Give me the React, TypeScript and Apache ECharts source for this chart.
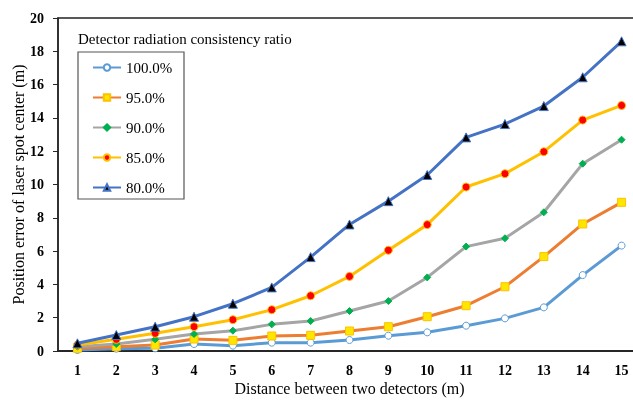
import React, { useEffect, useRef } from "react";
import * as echarts from "echarts";

const categories = ["1", "2", "3", "4", "5", "6", "7", "8", "9", "10", "11", "12", "13", "14", "15"];
const seriesNames = ["100.0%", "95.0%", "90.0%", "85.0%", "80.0%"];
const r100 = [0.06, 0.14, 0.16, 0.42, 0.32, 0.5, 0.5, 0.66, 0.92, 1.12, 1.52, 1.96, 2.62, 4.56, 6.33];
const r95 = [0.16, 0.26, 0.36, 0.72, 0.64, 0.9, 0.94, 1.2, 1.46, 2.06, 2.72, 3.86, 5.67, 7.63, 8.93];
const r90 = [0.26, 0.42, 0.7, 1.02, 1.22, 1.6, 1.8, 2.4, 3.0, 4.42, 6.27, 6.77, 8.33, 11.25, 12.69];
const r85 = [0.36, 0.7, 1.06, 1.46, 1.88, 2.48, 3.32, 4.48, 6.05, 7.59, 9.85, 10.65, 11.97, 13.87, 14.75];
const r80 = [0.46, 0.96, 1.46, 2.06, 2.84, 3.82, 5.64, 7.6, 9.0, 10.57, 12.83, 13.63, 14.71, 16.44, 18.6];

const FONT = "'Liberation Serif', 'Times New Roman', serif";

export default function App() {
  const ref = useRef<HTMLDivElement>(null);
  useEffect(() => {
    if (!ref.current) return;
    const chart = echarts.init(ref.current, null, { renderer: "svg" });
    const styles = [
      { line: "#5B9BD5", symbol: "circle", fill: "#ffffff", border: "#5B9BD5", size: 7 },
      { line: "#ED7D31", symbol: "rect", fill: "#FFE600", border: "#FFC000", size: 8 },
      { line: "#A5A5A5", symbol: "diamond", fill: "#00B050", border: "#00B050", size: 7 },
      { line: "#FFC000", symbol: "circle", fill: "#FF0000", border: "#FFC000", size: 8 },
      { line: "#4472C4", symbol: "triangle", fill: "#000000", border: "#4472C4", size: 9 },
    ];
    const data = [r100, r95, r90, r85, r80];
    chart.setOption({
      animation: false,
      textStyle: { fontFamily: FONT },
      title: {
        text: "Detector radiation consistency ratio",
        left: 73,
        top: 26,
        textStyle: { fontFamily: FONT, fontSize: 15, fontWeight: "normal", color: "#000" },
      },
      graphic: [
        {
          type: "rect",
          shape: { x: 78, y: 52, width: 106, height: 147 },
          style: { fill: "#fff", stroke: "#555", lineWidth: 1.2 },
          z: 5,
        },
      ],
      legend: {
        orient: "vertical",
        left: 87,
        top: 55,
        itemWidth: 28,
        itemHeight: 8,
        itemGap: 15,
        z: 10,
        textStyle: { fontFamily: FONT, fontSize: 15, color: "#000" },
        data: seriesNames,
      },
      grid: {
        left: 58, top: 18, width: 583, height: 333,
        outerBoundsMode: "none", containLabel: false,
        show: true, borderColor: "#222", borderWidth: 1.5, backgroundColor: "transparent",
      },
      xAxis: {
        type: "category",
        data: categories,
        boundaryGap: true,
        axisLine: { lineStyle: { color: "#262626", width: 2 } },
        axisTick: { show: false },
        axisLabel: { color: "#000", fontFamily: FONT, fontSize: 14, fontWeight: "bold", margin: 12 },
        name: "Distance between two detectors (m)",
        nameLocation: "middle",
        nameGap: 29,
        nameMoveOverlap: false,
        nameTextStyle: { color: "#000", fontFamily: FONT, fontSize: 16 },
      },
      yAxis: {
        type: "value",
        min: 0,
        max: 20,
        interval: 2,
        axisLine: { show: true, lineStyle: { color: "#262626", width: 1.5 } },
        axisTick: { show: true, inside: false, length: 5, lineStyle: { color: "#262626" } },
        splitLine: { show: false },
        axisLabel: { color: "#000", fontFamily: FONT, fontSize: 14, fontWeight: "bold", margin: 14 },
        name: "Position error of laser spot center (m)",
        nameLocation: "middle",
        nameGap: 32,
        nameMoveOverlap: false,
        nameTextStyle: { color: "#000", fontFamily: FONT, fontSize: 16 },
      },
      series: seriesNames.map((name, i) => ({
        name,
        type: "line",
        data: data[i],
        symbol: styles[i].symbol,
        symbolSize: styles[i].size,
        showAllSymbol: true,
        lineStyle: { color: styles[i].line, width: 3 },
        itemStyle: { color: styles[i].fill, borderColor: styles[i].border, borderWidth: 1 },
        z: 2 + i,
      })),
    });
    return () => chart.dispose();
  }, []);
  return <div ref={ref} style={{ position: "fixed", left: 0, top: 0, width: 633, height: 401 }} />;
}
